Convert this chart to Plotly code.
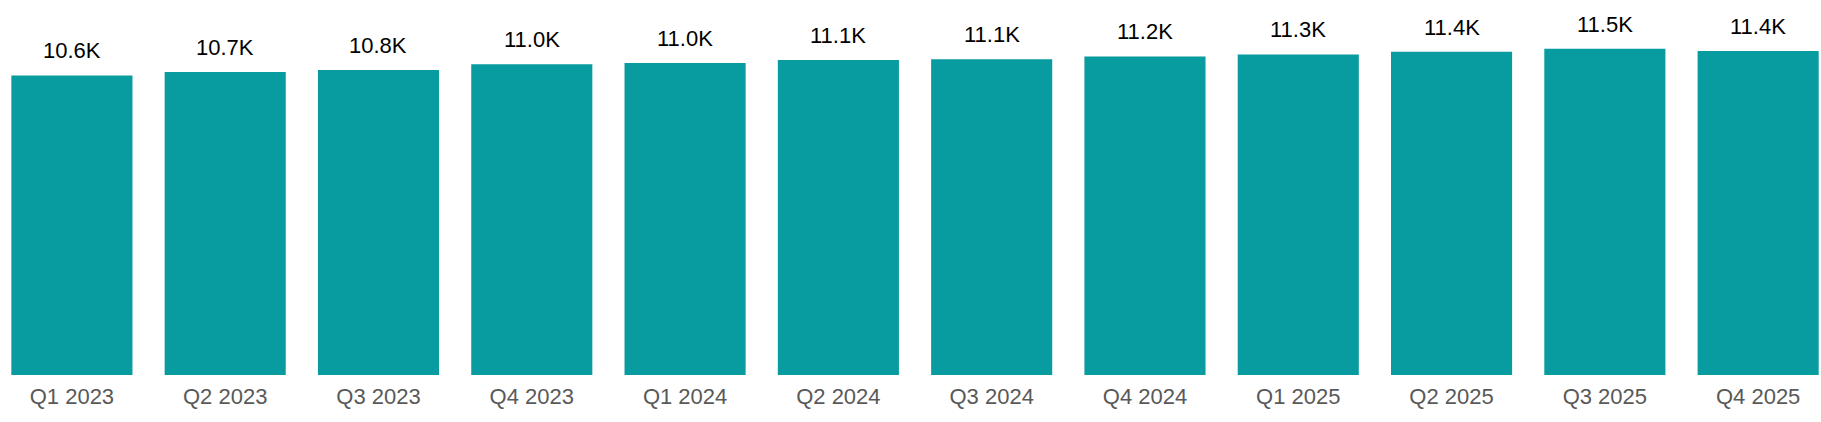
import plotly.graph_objects as go

# quarterly values
quarters = [
    "Q1 2023", "Q2 2023", "Q3 2023", "Q4 2023",
    "Q1 2024", "Q2 2024", "Q3 2024", "Q4 2024",
    "Q1 2025", "Q2 2025", "Q3 2025", "Q4 2025",
]
values = [10570, 10690, 10760, 10960, 11010, 11110, 11140, 11240, 11310, 11400, 11510, 11430]
labels = [f"{v / 1000:.1f}K" for v in values]

BAR_COLOR = "#089B9F"
FONT = "Liberation Sans, Arial"

fig = go.Figure()
fig.add_trace(go.Bar(x=quarters, y=values, marker=dict(color=BAR_COLOR, line=dict(width=0)), hoverinfo="x+y"))

# value labels above the bars
for q, v, lab in zip(quarters, values, labels):
    fig.add_annotation(
        x=q, y=v, text=lab, showarrow=False, yanchor="bottom", yshift=10,
        font=dict(family=FONT, size=22, color="#000000"),
    )

fig.update_layout(
    width=1821,
    height=422,
    margin=dict(l=0, r=0, t=0, b=47),
    plot_bgcolor="white",
    paper_bgcolor="white",
    bargap=0.21,
    showlegend=False,
    xaxis=dict(
        range=[-0.469, 11.41],
        showgrid=False,
        showline=False,
        zeroline=False,
        ticks="",
        ticklabelstandoff=6,
        tickfont=dict(family=FONT, size=22, color="#595959"),
    ),
    yaxis=dict(range=[0, 13230], visible=False, showgrid=False, zeroline=False),
)

# drop the default body margin so the figure sits at the page corner
fig.write_html(
    "out.html",
    config={"displayModeBar": False},
    post_script="document.body.style.margin='0';",
)
